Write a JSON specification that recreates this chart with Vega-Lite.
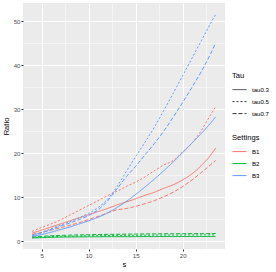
{
"$schema": "https://vega.github.io/schema/vega-lite/v6.json",
"width": 202, "height": 246,
"autosize": {"type": "none"},
"padding": {"left": 23, "top": 3, "right": 51, "bottom": 23},
"background": "white",
"config": {"view": {"fill": "#EBEBEB", "stroke": null}, "font": "Liberation Sans"},
"data": {"values": [
{"s":4,"Ratio":1.8,"Tau":"tau0.3","Settings":"B1"},{"s":5,"Ratio":2.5,"Tau":"tau0.3","Settings":"B1"},{"s":6,"Ratio":3.2,"Tau":"tau0.3","Settings":"B1"},{"s":7,"Ratio":3.9,"Tau":"tau0.3","Settings":"B1"},{"s":8,"Ratio":4.6,"Tau":"tau0.3","Settings":"B1"},{"s":9,"Ratio":5.3,"Tau":"tau0.3","Settings":"B1"},{"s":10,"Ratio":6.0,"Tau":"tau0.3","Settings":"B1"},{"s":11,"Ratio":6.7,"Tau":"tau0.3","Settings":"B1"},{"s":12,"Ratio":7.4,"Tau":"tau0.3","Settings":"B1"},{"s":13,"Ratio":8.2,"Tau":"tau0.3","Settings":"B1"},{"s":14,"Ratio":8.9,"Tau":"tau0.3","Settings":"B1"},{"s":15,"Ratio":9.6,"Tau":"tau0.3","Settings":"B1"},{"s":16,"Ratio":10.4,"Tau":"tau0.3","Settings":"B1"},{"s":17,"Ratio":11.1,"Tau":"tau0.3","Settings":"B1"},{"s":18,"Ratio":12.0,"Tau":"tau0.3","Settings":"B1"},{"s":19,"Ratio":12.8,"Tau":"tau0.3","Settings":"B1"},{"s":20,"Ratio":13.9,"Tau":"tau0.3","Settings":"B1"},{"s":21,"Ratio":15.3,"Tau":"tau0.3","Settings":"B1"},{"s":22,"Ratio":17.2,"Tau":"tau0.3","Settings":"B1"},{"s":23,"Ratio":19.6,"Tau":"tau0.3","Settings":"B1"},{"s":23.5,"Ratio":21.1,"Tau":"tau0.3","Settings":"B1"},
{"s":4,"Ratio":2.2,"Tau":"tau0.5","Settings":"B1"},{"s":5,"Ratio":3.1,"Tau":"tau0.5","Settings":"B1"},{"s":6,"Ratio":3.9,"Tau":"tau0.5","Settings":"B1"},{"s":7,"Ratio":4.8,"Tau":"tau0.5","Settings":"B1"},{"s":8,"Ratio":5.9,"Tau":"tau0.5","Settings":"B1"},{"s":9,"Ratio":7.0,"Tau":"tau0.5","Settings":"B1"},{"s":10,"Ratio":8.1,"Tau":"tau0.5","Settings":"B1"},{"s":11,"Ratio":9.2,"Tau":"tau0.5","Settings":"B1"},{"s":12,"Ratio":10.3,"Tau":"tau0.5","Settings":"B1"},{"s":13,"Ratio":11.3,"Tau":"tau0.5","Settings":"B1"},{"s":14,"Ratio":12.4,"Tau":"tau0.5","Settings":"B1"},{"s":15,"Ratio":13.4,"Tau":"tau0.5","Settings":"B1"},{"s":16,"Ratio":14.6,"Tau":"tau0.5","Settings":"B1"},{"s":17,"Ratio":16.0,"Tau":"tau0.5","Settings":"B1"},{"s":18,"Ratio":17.3,"Tau":"tau0.5","Settings":"B1"},{"s":19,"Ratio":18.3,"Tau":"tau0.5","Settings":"B1"},{"s":20,"Ratio":20.3,"Tau":"tau0.5","Settings":"B1"},{"s":21,"Ratio":22.3,"Tau":"tau0.5","Settings":"B1"},{"s":22,"Ratio":25.2,"Tau":"tau0.5","Settings":"B1"},{"s":23,"Ratio":28.8,"Tau":"tau0.5","Settings":"B1"},{"s":23.5,"Ratio":30.5,"Tau":"tau0.5","Settings":"B1"},
{"s":4,"Ratio":1.5,"Tau":"tau0.7","Settings":"B1"},{"s":5,"Ratio":1.95,"Tau":"tau0.7","Settings":"B1"},{"s":6,"Ratio":2.5,"Tau":"tau0.7","Settings":"B1"},{"s":7,"Ratio":3.0,"Tau":"tau0.7","Settings":"B1"},{"s":8,"Ratio":3.6,"Tau":"tau0.7","Settings":"B1"},{"s":9,"Ratio":4.2,"Tau":"tau0.7","Settings":"B1"},{"s":10,"Ratio":4.9,"Tau":"tau0.7","Settings":"B1"},{"s":11,"Ratio":5.6,"Tau":"tau0.7","Settings":"B1"},{"s":12,"Ratio":6.4,"Tau":"tau0.7","Settings":"B1"},{"s":13,"Ratio":7.1,"Tau":"tau0.7","Settings":"B1"},{"s":14,"Ratio":7.4,"Tau":"tau0.7","Settings":"B1"},{"s":15,"Ratio":7.9,"Tau":"tau0.7","Settings":"B1"},{"s":16,"Ratio":8.5,"Tau":"tau0.7","Settings":"B1"},{"s":17,"Ratio":9.2,"Tau":"tau0.7","Settings":"B1"},{"s":18,"Ratio":10.1,"Tau":"tau0.7","Settings":"B1"},{"s":19,"Ratio":11.1,"Tau":"tau0.7","Settings":"B1"},{"s":20,"Ratio":12.4,"Tau":"tau0.7","Settings":"B1"},{"s":21,"Ratio":13.9,"Tau":"tau0.7","Settings":"B1"},{"s":22,"Ratio":15.6,"Tau":"tau0.7","Settings":"B1"},{"s":23,"Ratio":17.4,"Tau":"tau0.7","Settings":"B1"},{"s":23.5,"Ratio":18.3,"Tau":"tau0.7","Settings":"B1"},
{"s":4,"Ratio":0.7,"Tau":"tau0.3","Settings":"B2"},{"s":5,"Ratio":0.78,"Tau":"tau0.3","Settings":"B2"},{"s":6,"Ratio":0.85,"Tau":"tau0.3","Settings":"B2"},{"s":7,"Ratio":0.9,"Tau":"tau0.3","Settings":"B2"},{"s":8,"Ratio":0.93,"Tau":"tau0.3","Settings":"B2"},{"s":9,"Ratio":0.95,"Tau":"tau0.3","Settings":"B2"},{"s":10,"Ratio":0.97,"Tau":"tau0.3","Settings":"B2"},{"s":11,"Ratio":0.98,"Tau":"tau0.3","Settings":"B2"},{"s":12,"Ratio":1.0,"Tau":"tau0.3","Settings":"B2"},{"s":13,"Ratio":1.0,"Tau":"tau0.3","Settings":"B2"},{"s":14,"Ratio":1.0,"Tau":"tau0.3","Settings":"B2"},{"s":15,"Ratio":1.01,"Tau":"tau0.3","Settings":"B2"},{"s":16,"Ratio":1.02,"Tau":"tau0.3","Settings":"B2"},{"s":17,"Ratio":1.02,"Tau":"tau0.3","Settings":"B2"},{"s":18,"Ratio":1.03,"Tau":"tau0.3","Settings":"B2"},{"s":19,"Ratio":1.03,"Tau":"tau0.3","Settings":"B2"},{"s":20,"Ratio":1.04,"Tau":"tau0.3","Settings":"B2"},{"s":21,"Ratio":1.04,"Tau":"tau0.3","Settings":"B2"},{"s":22,"Ratio":1.05,"Tau":"tau0.3","Settings":"B2"},{"s":23,"Ratio":1.05,"Tau":"tau0.3","Settings":"B2"},{"s":23.5,"Ratio":1.05,"Tau":"tau0.3","Settings":"B2"},
{"s":4,"Ratio":0.8,"Tau":"tau0.5","Settings":"B2"},{"s":5,"Ratio":0.9,"Tau":"tau0.5","Settings":"B2"},{"s":6,"Ratio":1.0,"Tau":"tau0.5","Settings":"B2"},{"s":7,"Ratio":1.05,"Tau":"tau0.5","Settings":"B2"},{"s":8,"Ratio":1.1,"Tau":"tau0.5","Settings":"B2"},{"s":9,"Ratio":1.15,"Tau":"tau0.5","Settings":"B2"},{"s":10,"Ratio":1.2,"Tau":"tau0.5","Settings":"B2"},{"s":11,"Ratio":1.22,"Tau":"tau0.5","Settings":"B2"},{"s":12,"Ratio":1.25,"Tau":"tau0.5","Settings":"B2"},{"s":13,"Ratio":1.28,"Tau":"tau0.5","Settings":"B2"},{"s":14,"Ratio":1.3,"Tau":"tau0.5","Settings":"B2"},{"s":15,"Ratio":1.32,"Tau":"tau0.5","Settings":"B2"},{"s":16,"Ratio":1.33,"Tau":"tau0.5","Settings":"B2"},{"s":17,"Ratio":1.35,"Tau":"tau0.5","Settings":"B2"},{"s":18,"Ratio":1.36,"Tau":"tau0.5","Settings":"B2"},{"s":19,"Ratio":1.37,"Tau":"tau0.5","Settings":"B2"},{"s":20,"Ratio":1.38,"Tau":"tau0.5","Settings":"B2"},{"s":21,"Ratio":1.39,"Tau":"tau0.5","Settings":"B2"},{"s":22,"Ratio":1.4,"Tau":"tau0.5","Settings":"B2"},{"s":23,"Ratio":1.4,"Tau":"tau0.5","Settings":"B2"},{"s":23.5,"Ratio":1.4,"Tau":"tau0.5","Settings":"B2"},
{"s":4,"Ratio":0.95,"Tau":"tau0.7","Settings":"B2"},{"s":5,"Ratio":1.08,"Tau":"tau0.7","Settings":"B2"},{"s":6,"Ratio":1.2,"Tau":"tau0.7","Settings":"B2"},{"s":7,"Ratio":1.28,"Tau":"tau0.7","Settings":"B2"},{"s":8,"Ratio":1.35,"Tau":"tau0.7","Settings":"B2"},{"s":9,"Ratio":1.4,"Tau":"tau0.7","Settings":"B2"},{"s":10,"Ratio":1.45,"Tau":"tau0.7","Settings":"B2"},{"s":11,"Ratio":1.49,"Tau":"tau0.7","Settings":"B2"},{"s":12,"Ratio":1.52,"Tau":"tau0.7","Settings":"B2"},{"s":13,"Ratio":1.55,"Tau":"tau0.7","Settings":"B2"},{"s":14,"Ratio":1.58,"Tau":"tau0.7","Settings":"B2"},{"s":15,"Ratio":1.6,"Tau":"tau0.7","Settings":"B2"},{"s":16,"Ratio":1.62,"Tau":"tau0.7","Settings":"B2"},{"s":17,"Ratio":1.64,"Tau":"tau0.7","Settings":"B2"},{"s":18,"Ratio":1.66,"Tau":"tau0.7","Settings":"B2"},{"s":19,"Ratio":1.67,"Tau":"tau0.7","Settings":"B2"},{"s":20,"Ratio":1.68,"Tau":"tau0.7","Settings":"B2"},{"s":21,"Ratio":1.69,"Tau":"tau0.7","Settings":"B2"},{"s":22,"Ratio":1.7,"Tau":"tau0.7","Settings":"B2"},{"s":23,"Ratio":1.71,"Tau":"tau0.7","Settings":"B2"},{"s":23.5,"Ratio":1.72,"Tau":"tau0.7","Settings":"B2"},
{"s":4,"Ratio":1.0,"Tau":"tau0.3","Settings":"B3"},{"s":5,"Ratio":1.5,"Tau":"tau0.3","Settings":"B3"},{"s":6,"Ratio":2.0,"Tau":"tau0.3","Settings":"B3"},{"s":7,"Ratio":2.6,"Tau":"tau0.3","Settings":"B3"},{"s":8,"Ratio":3.2,"Tau":"tau0.3","Settings":"B3"},{"s":9,"Ratio":3.9,"Tau":"tau0.3","Settings":"B3"},{"s":10,"Ratio":4.6,"Tau":"tau0.3","Settings":"B3"},{"s":11,"Ratio":5.4,"Tau":"tau0.3","Settings":"B3"},{"s":12,"Ratio":6.4,"Tau":"tau0.3","Settings":"B3"},{"s":13,"Ratio":7.6,"Tau":"tau0.3","Settings":"B3"},{"s":14,"Ratio":9.0,"Tau":"tau0.3","Settings":"B3"},{"s":15,"Ratio":10.6,"Tau":"tau0.3","Settings":"B3"},{"s":16,"Ratio":12.3,"Tau":"tau0.3","Settings":"B3"},{"s":17,"Ratio":14.1,"Tau":"tau0.3","Settings":"B3"},{"s":18,"Ratio":16.0,"Tau":"tau0.3","Settings":"B3"},{"s":19,"Ratio":18.0,"Tau":"tau0.3","Settings":"B3"},{"s":20,"Ratio":20.1,"Tau":"tau0.3","Settings":"B3"},{"s":21,"Ratio":22.3,"Tau":"tau0.3","Settings":"B3"},{"s":22,"Ratio":24.5,"Tau":"tau0.3","Settings":"B3"},{"s":23,"Ratio":26.9,"Tau":"tau0.3","Settings":"B3"},{"s":23.5,"Ratio":28.2,"Tau":"tau0.3","Settings":"B3"},
{"s":4,"Ratio":1.3,"Tau":"tau0.5","Settings":"B3"},{"s":5,"Ratio":2.0,"Tau":"tau0.5","Settings":"B3"},{"s":6,"Ratio":2.8,"Tau":"tau0.5","Settings":"B3"},{"s":7,"Ratio":3.6,"Tau":"tau0.5","Settings":"B3"},{"s":8,"Ratio":4.4,"Tau":"tau0.5","Settings":"B3"},{"s":9,"Ratio":5.3,"Tau":"tau0.5","Settings":"B3"},{"s":10,"Ratio":6.3,"Tau":"tau0.5","Settings":"B3"},{"s":11,"Ratio":7.6,"Tau":"tau0.5","Settings":"B3"},{"s":12,"Ratio":9.5,"Tau":"tau0.5","Settings":"B3"},{"s":13,"Ratio":12.3,"Tau":"tau0.5","Settings":"B3"},{"s":14,"Ratio":15.8,"Tau":"tau0.5","Settings":"B3"},{"s":15,"Ratio":19.2,"Tau":"tau0.5","Settings":"B3"},{"s":16,"Ratio":22.5,"Tau":"tau0.5","Settings":"B3"},{"s":17,"Ratio":25.9,"Tau":"tau0.5","Settings":"B3"},{"s":18,"Ratio":29.7,"Tau":"tau0.5","Settings":"B3"},{"s":19,"Ratio":33.6,"Tau":"tau0.5","Settings":"B3"},{"s":20,"Ratio":37.6,"Tau":"tau0.5","Settings":"B3"},{"s":21,"Ratio":41.6,"Tau":"tau0.5","Settings":"B3"},{"s":22,"Ratio":45.6,"Tau":"tau0.5","Settings":"B3"},{"s":23,"Ratio":49.6,"Tau":"tau0.5","Settings":"B3"},{"s":23.5,"Ratio":51.5,"Tau":"tau0.5","Settings":"B3"},
{"s":4,"Ratio":1.2,"Tau":"tau0.7","Settings":"B3"},{"s":5,"Ratio":1.9,"Tau":"tau0.7","Settings":"B3"},{"s":6,"Ratio":2.6,"Tau":"tau0.7","Settings":"B3"},{"s":7,"Ratio":3.4,"Tau":"tau0.7","Settings":"B3"},{"s":8,"Ratio":4.1,"Tau":"tau0.7","Settings":"B3"},{"s":9,"Ratio":4.9,"Tau":"tau0.7","Settings":"B3"},{"s":10,"Ratio":5.8,"Tau":"tau0.7","Settings":"B3"},{"s":11,"Ratio":7.1,"Tau":"tau0.7","Settings":"B3"},{"s":12,"Ratio":9.1,"Tau":"tau0.7","Settings":"B3"},{"s":13,"Ratio":11.8,"Tau":"tau0.7","Settings":"B3"},{"s":14,"Ratio":14.6,"Tau":"tau0.7","Settings":"B3"},{"s":15,"Ratio":17.0,"Tau":"tau0.7","Settings":"B3"},{"s":16,"Ratio":19.6,"Tau":"tau0.7","Settings":"B3"},{"s":17,"Ratio":22.2,"Tau":"tau0.7","Settings":"B3"},{"s":18,"Ratio":25.0,"Tau":"tau0.7","Settings":"B3"},{"s":19,"Ratio":28.2,"Tau":"tau0.7","Settings":"B3"},{"s":20,"Ratio":31.5,"Tau":"tau0.7","Settings":"B3"},{"s":21,"Ratio":35.0,"Tau":"tau0.7","Settings":"B3"},{"s":22,"Ratio":38.6,"Tau":"tau0.7","Settings":"B3"},{"s":23,"Ratio":42.7,"Tau":"tau0.7","Settings":"B3"},{"s":23.5,"Ratio":45.0,"Tau":"tau0.7","Settings":"B3"}
]},
"mark": {"type": "line", "strokeWidth": 1, "interpolate": "monotone"},
"encoding": {
  "x": {"field": "s", "type": "quantitative",
    "scale": {"domain": [3.025, 24.5], "nice": false, "zero": false},
    "axis": {"title": "s", "values": [5, 7.5, 10, 12.5, 15, 17.5, 20, 22.5],
      "labelExpr": "datum.value % 5 === 0 ? datum.label : ''",
      "domain": false, "gridColor": "white",
      "gridWidth": {"condition": {"test": "datum.value % 5 !== 0", "value": 0.5}, "value": 1},
      "tickColor": {"condition": {"test": "datum.value % 5 !== 0", "value": "transparent"}, "value": "#333333"},
      "tickSize": 2, "tickWidth": 1, "labelFlush": false, "labelOverlap": false,
      "labelFontSize": 6.1, "labelColor": "#4D4D4D", "labelPadding": 1,
      "titleFontSize": 7.6, "titleColor": "black", "titleFontWeight": "normal", "titlePadding": 2}},
  "y": {"field": "Ratio", "type": "quantitative",
    "scale": {"domain": [-1.8, 54.1], "nice": false, "zero": false},
    "axis": {"title": "Ratio", "values": [0, 5, 10, 15, 20, 25, 30, 35, 40, 45, 50],
      "labelExpr": "datum.value % 10 === 0 ? datum.label : ''",
      "domain": false, "gridColor": "white",
      "gridWidth": {"condition": {"test": "datum.value % 10 !== 0", "value": 0.5}, "value": 1},
      "tickColor": {"condition": {"test": "datum.value % 10 !== 0", "value": "transparent"}, "value": "#333333"},
      "tickSize": 2, "tickWidth": 1, "labelFlush": false, "labelOverlap": false,
      "labelFontSize": 6.1, "labelColor": "#4D4D4D", "labelPadding": 1,
      "titleFontSize": 7.6, "titleColor": "black", "titleFontWeight": "normal", "titlePadding": 3}},
  "color": {"field": "Settings", "type": "nominal",
    "scale": {"domain": ["B1", "B2", "B3"], "range": ["#F8766D", "#00BA38", "#619CFF"]},
    "legend": {"title": "Settings", "orient": "none", "legendX": 209, "legendY": 131,
      "symbolType": "stroke", "symbolSize": 196, "symbolStrokeWidth": 1,
      "clipHeight": 12, "rowPadding": 0, "titlePadding": 4, "labelOffset": 5,
      "labelFontSize": 6.1, "labelColor": "black",
      "titleFontSize": 7.6, "titleColor": "black", "titleFontWeight": "normal"}},
  "strokeDash": {"field": "Tau", "type": "nominal",
    "scale": {"domain": ["tau0.3", "tau0.5", "tau0.7"], "range": [[1, 0], [2, 2], [4, 2]]},
    "legend": {"title": "Tau", "orient": "none", "legendX": 209, "legendY": 69,
      "symbolType": "stroke", "symbolSize": 196, "symbolStrokeWidth": 1, "symbolStrokeColor": "#333333",
      "clipHeight": 12, "rowPadding": 0, "titlePadding": 4, "labelOffset": 5,
      "labelFontSize": 6.1, "labelColor": "black",
      "titleFontSize": 7.6, "titleColor": "black", "titleFontWeight": "normal"}}
}
}
